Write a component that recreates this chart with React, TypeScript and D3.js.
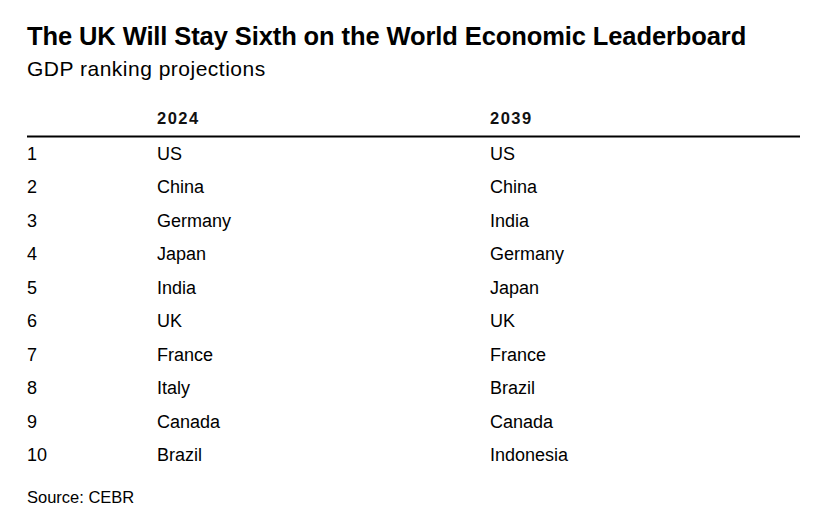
import React from "react";
import * as d3 from "d3";

const title = "The UK Will Stay Sixth on the World Economic Leaderboard";
const subtitle = "GDP ranking projections";
const source = "Source: CEBR";
const columns = ["", "2024", "2039"];
const ranks = [1, 2, 3, 4, 5, 6, 7, 8, 9, 10];
const rank2024 = ["US", "China", "Germany", "Japan", "India", "UK", "France", "Italy", "Canada", "Brazil"];
const rank2039 = ["US", "China", "India", "Germany", "Japan", "UK", "France", "Brazil", "Canada", "Indonesia"];

const W = 813;
const H = 516;
const FONT = "'Liberation Sans', Arial, Helvetica, sans-serif";

export default function App() {
  const x = d3.scaleOrdinal<string, number>().domain(columns).range([27, 157, 490]);
  const y = d3.scalePoint<number>().domain(ranks).range([160, 461]);

  return (
    <svg width={W} height={H} style={{ position: "absolute", left: 0, top: 0, background: "#fff" }}>
      <rect width={W} height={H} fill="#fff" />
      <text x={27} y={45} fontFamily={FONT} fontWeight="bold" fontSize={25.5} fill="#000" letterSpacing={-0.1}>
        {title}
      </text>
      <text x={27} y={76} fontFamily={FONT} fontSize={21} fill="#000" letterSpacing={0.5}>
        {subtitle}
      </text>
      {columns.map((c) => (
        <text key={"h" + c} x={x(c)} y={124} fontFamily={FONT} fontWeight="bold" fontSize={16.5} fill="#111" letterSpacing={1.5}>
          {c}
        </text>
      ))}
      <line x1={27} x2={800} y1={136.5} y2={136.5} stroke="#000" strokeWidth={2} />
      {ranks.map((r, i) => (
        <g key={r} fontFamily={FONT} fontSize={18} fill="#000">
          <text x={x("")} y={y(r)}>{r}</text>
          <text x={x("2024")} y={y(r)}>{rank2024[i]}</text>
          <text x={x("2039")} y={y(r)}>{rank2039[i]}</text>
        </g>
      ))}
      <text x={27} y={502.5} fontFamily={FONT} fontSize={16.5} fill="#000">
        {source}
      </text>
    </svg>
  );
}
